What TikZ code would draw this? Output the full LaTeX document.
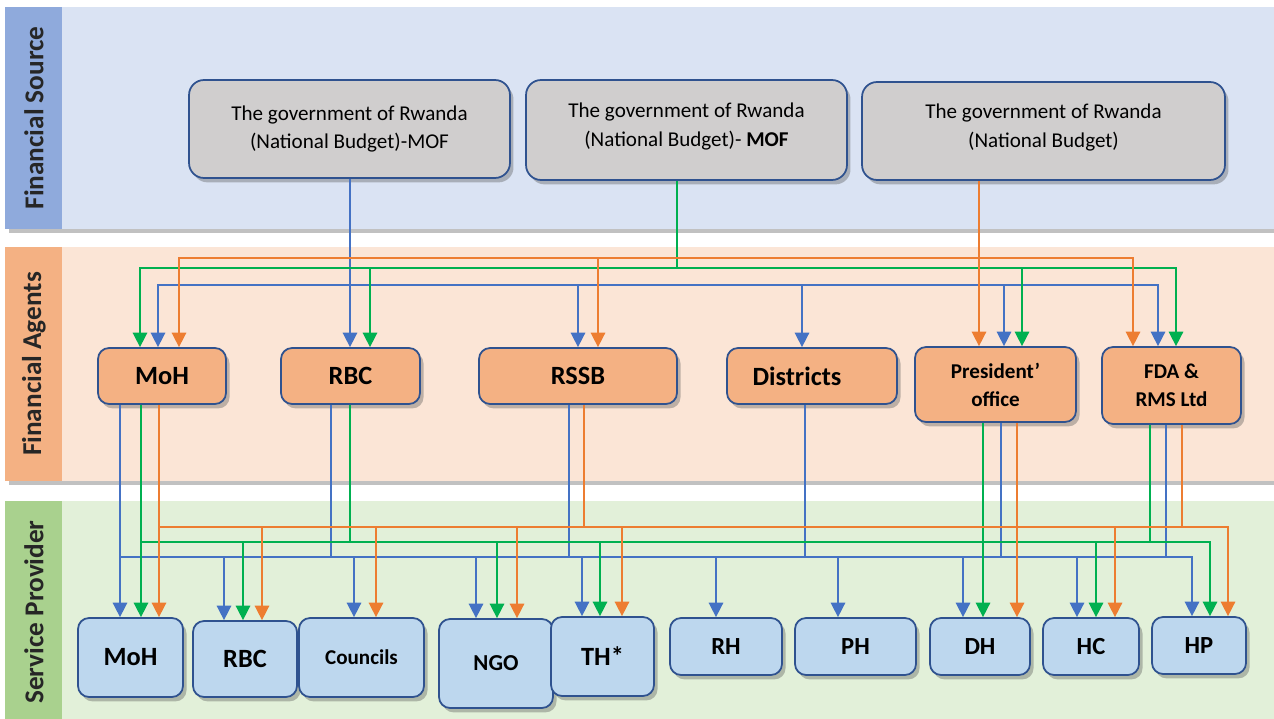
\documentclass[tikz,border=0pt]{standalone}
\usepackage{fontspec}
\setmainfont{Carlito}
\usetikzlibrary{arrows.meta,shadows}
\definecolor{srcstrip}{HTML}{8FAADC}
\definecolor{srcband}{HTML}{DAE3F3}
\definecolor{agentstrip}{HTML}{F4B183}
\definecolor{agentband}{HTML}{FBE5D6}
\definecolor{provstrip}{HTML}{A9D18E}
\definecolor{provband}{HTML}{E2F0D9}
\definecolor{boxline}{HTML}{2F528F}
\definecolor{srcgray}{HTML}{D0CECE}
\definecolor{agentfill}{HTML}{F4B183}
\definecolor{provfill}{HTML}{BDD7EE}
\definecolor{lineblue}{HTML}{4472C4}
\definecolor{linegreen}{HTML}{00B050}
\definecolor{lineorange}{HTML}{ED7D31}
\tikzset{
  wireline/.style={line width=0.9pt},
  arrowtip/.style={-{Triangle[length=2.9mm, width=2.9mm]}},
  boxshadow/.style={drop shadow={shadow xshift=2pt, shadow yshift=-2.5pt, opacity=0.35, fill=black!70}},
  srcbox/.style={draw=boxline, line width=1pt, rounded corners=0.3cm, fill=srcgray, minimum height=1.96cm, align=center, inner sep=0pt, font=\fontsize{12}{16.4}\selectfont, boxshadow},
  agentbox/.style={draw=boxline, line width=1pt, rounded corners=0.22cm, fill=agentfill, minimum height=1.12cm, align=center, inner sep=0pt, font=\fontsize{15}{18}\selectfont\bfseries, boxshadow},
  provbox/.style={draw=boxline, line width=1pt, rounded corners=0.22cm, fill=provfill, minimum height=1.58cm, align=center, inner sep=0pt, font=\fontsize{15}{18}\selectfont\bfseries, boxshadow},
  smallbox/.style={minimum height=1.14cm, font=\fontsize{14}{17}\selectfont\bfseries},
  bandlabel/.style={rotate=90, font=\fontsize{15.5}{18}\selectfont\bfseries, text=black!85}
}
\begin{document}
\begin{tikzpicture}[x=0.02cm, y=-0.02cm]
  \useasboundingbox (0,0) rectangle (1274,719);
  % bands
  \fill[srcband, boxshadow] (5,7) rectangle (1274,229);
  \fill[srcstrip] (5,7) rectangle (62,229);
  \fill[agentband, boxshadow] (5,247) rectangle (1274,481);
  \fill[agentstrip] (5,247) rectangle (62,481);
  \fill[provband, boxshadow] (5,501) rectangle (1274,730);
  \fill[provstrip] (5,501) rectangle (62,730);
  \node[bandlabel] (lblsrc) at (34,118) {Financial Source};
  \node[bandlabel] (lblagent) at (34,364) {Financial Agents};
  \node[bandlabel] (lblprov) at (34,612) {Service Provider};

  % financial sources
  \node[srcbox, minimum width=6.42cm] (srcA) at (349.5,129) {The government of Rwanda\\(National Budget)-MOF};
  \node[srcbox, minimum width=6.42cm, minimum height=2cm] (srcB) at (686.5,130) {The government of Rwanda\\(National Budget)- \textbf{MOF}\\[-10pt]};
  \node[srcbox, minimum width=7.26cm] (srcC) at (1043.5,131) {The government of Rwanda\\(National Budget)\\[-10pt]};

  % financial agents
  \node[agentbox, minimum width=2.56cm] (agMoH) at (162,376) {MoH};
  \node[agentbox, minimum width=2.78cm] (agRBC) at (350.5,376) {RBC};
  \node[agentbox, minimum width=3.96cm] (agRSSB) at (578,376) {RSSB};
  \node[agentbox, minimum width=3.4cm] (agDist) at (812,376) {Districts\hspace{0.6cm}};
  \node[agentbox, minimum width=3.22cm, minimum height=1.5cm, font=\fontsize{12}{16}\selectfont\bfseries] (agPres) at (995.5,384.5) {President’\\office};
  \node[agentbox, minimum width=2.78cm, minimum height=1.54cm, font=\fontsize{12}{16}\selectfont\bfseries] (agFDA) at (1171.5,385.5) {FDA \&\\RMS Ltd};

  % service providers
  \node[provbox, minimum width=2.1cm] (svMoH) at (130.5,657.5) {MoH};
  \node[provbox, minimum width=2.08cm, minimum height=1.52cm] (svRBC) at (245,659) {RBC};
  \node[provbox, minimum width=2.5cm, font=\fontsize{12}{14}\selectfont\bfseries] (svCouncils) at (361.5,657.5) {Councils};
  \node[provbox, minimum width=2.28cm, minimum height=1.78cm, font=\fontsize{13}{15}\selectfont\bfseries] (svNGO) at (496,663.5) {NGO};
  \node[provbox, minimum width=2.06cm] (svTH) at (602.5,656.5) {TH*};
  \node[provbox, smallbox, minimum width=2.24cm] (svRH) at (726,646.5) {RH};
  \node[provbox, smallbox, minimum width=2.42cm] (svPH) at (855.5,646.5) {PH};
  \node[provbox, smallbox, minimum width=2.0cm] (svDH) at (980,646.5) {DH};
  \node[provbox, smallbox, minimum width=1.92cm] (svHC) at (1091,646.5) {HC};
  \node[provbox, smallbox, minimum width=1.88cm] (svHP) at (1199,645.5) {HP};

  % sources -> agents
  \draw[wireline, lineblue, arrowtip] (srcA.south -| 350,0) -- (agRBC.north -| 350,0);
  \foreach \xx/\nn in {158/agMoH, 578/agRSSB, 802/agDist, 1004/agPres, 1158/agFDA}
    \draw[wireline, lineblue, arrowtip] (srcA.south -| 350,0) |- (\xx,285) -- (\nn.north -| \xx,0);
  \foreach \xx/\nn in {140/agMoH, 370/agRBC, 1022/agPres, 1176/agFDA}
    \draw[wireline, linegreen, arrowtip] (srcB.south -| 677,0) |- (\xx,268) -- (\nn.north -| \xx,0);
  \draw[wireline, lineorange, arrowtip] (srcC.south -| 979,0) -- (agPres.north -| 979,0);
  \foreach \xx/\nn in {179/agMoH, 598/agRSSB, 1133/agFDA}
    \draw[wireline, lineorange, arrowtip] (srcC.south -| 979,0) |- (\xx,258) -- (\nn.north -| \xx,0);

  % agents -> providers
  \coordinate (bBus) at (120,557);
  \coordinate (gBus) at (141,542);
  \coordinate (oBus) at (159,527);
  % blue
  \draw[wireline, lineblue, arrowtip] (agMoH.south -| bBus) -- (svMoH.north -| bBus);
  \foreach \xx/\nn in {224/svRBC, 354/svCouncils, 476/svNGO, 582/svTH, 716/svRH, 838/svPH, 963/svDH, 1077/svHC, 1192/svHP}
    \draw[wireline, lineblue, arrowtip] (agMoH.south -| bBus) |- (\xx,557) -- (\nn.north -| \xx,0);
  \foreach \xx/\nn in {331/agRBC, 569/agRSSB, 805/agDist, 1001/agPres, 1166/agFDA}
    \draw[wireline, lineblue] (\nn.south -| \xx,0) -- (bBus -| \xx,0);
  % green
  \draw[wireline, linegreen, arrowtip] (agMoH.south -| gBus) -- (svMoH.north -| gBus);
  \foreach \xx/\nn in {243/svRBC, 497/svNGO, 600/svTH, 1096/svHC, 1210/svHP}
    \draw[wireline, linegreen, arrowtip] (agMoH.south -| gBus) |- (\xx,542) -- (\nn.north -| \xx,0);
  \draw[wireline, linegreen, arrowtip] (agPres.south -| 983,0) -- (svDH.north -| 983,0);
  \foreach \xx/\nn in {350/agRBC, 1150/agFDA}
    \draw[wireline, linegreen] (\nn.south -| \xx,0) -- (gBus -| \xx,0);
  % orange
  \draw[wireline, lineorange, arrowtip] (agMoH.south -| oBus) -- (svMoH.north -| oBus);
  \foreach \xx/\nn in {262/svRBC, 376/svCouncils, 517/svNGO, 622/svTH, 1115/svHC, 1228/svHP}
    \draw[wireline, lineorange, arrowtip] (agMoH.south -| oBus) |- (\xx,527) -- (\nn.north -| \xx,0);
  \draw[wireline, lineorange, arrowtip] (agPres.south -| 1017,0) -- (svDH.north -| 1017,0);
  \foreach \xx/\nn in {584/agRSSB, 1182/agFDA}
    \draw[wireline, lineorange] (\nn.south -| \xx,0) -- (oBus -| \xx,0);
\end{tikzpicture}
\end{document}
